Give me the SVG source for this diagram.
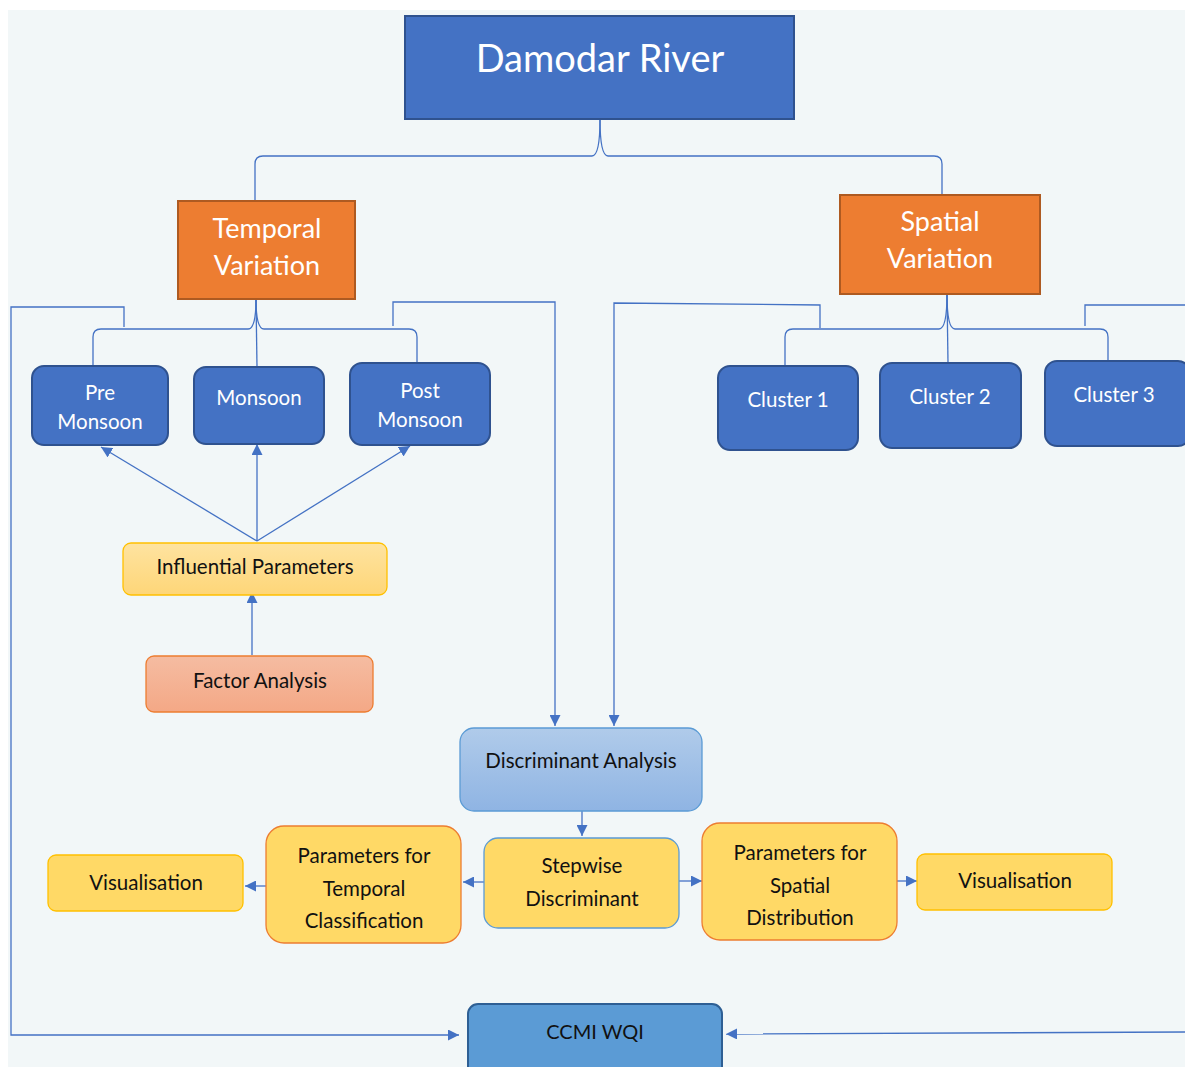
<svg xmlns="http://www.w3.org/2000/svg" width="1185" height="1067" viewBox="0 0 1185 1067">
<defs>
<style>
.t{font-family:Lato,"Open Sans","Liberation Sans",sans-serif;text-anchor:middle}
.w{fill:#ffffff}
.k{fill:#111111}
.ln{fill:none;stroke:#4472c4;stroke-width:1.3}
.blue{fill:#4472c4;stroke:#2f528f;stroke-width:2}
.org{fill:#ed7d31;stroke:#ae5a21;stroke-width:2}
.yel{fill:#ffd966;stroke:#ffc000;stroke-width:1.3}
</style>
<marker id="ar" viewBox="0 0 10 10" refX="10" refY="5" markerWidth="11" markerHeight="11" markerUnits="userSpaceOnUse" orient="auto">
<path d="M0,0 L10,5 L0,10 z" fill="#4472c4"/>
</marker>
<linearGradient id="gIP" x1="0" y1="0" x2="0" y2="1"><stop offset="0" stop-color="#fee3a0"/><stop offset="1" stop-color="#fed678"/></linearGradient>
<linearGradient id="gFA" x1="0" y1="0" x2="0" y2="1"><stop offset="0" stop-color="#f5bca2"/><stop offset="1" stop-color="#f4a886"/></linearGradient>
<linearGradient id="gDA" x1="0" y1="0" x2="0" y2="1"><stop offset="0" stop-color="#b0cbea"/><stop offset="1" stop-color="#8fb4e3"/></linearGradient>
</defs>
<rect x="0" y="0" width="1185" height="1067" fill="#ffffff"/>
<rect x="8" y="10" width="1177" height="1057" fill="#f2f7f8"/>

<g id="connectors">
<path class="ln" d="M600,119 Q600,156 592,156 L263,156 Q255,156 255,164 L255,201"/>
<path class="ln" d="M600,119 Q600,156 608,156 L934,156 Q942,156 942,164 L942,195"/>
<path class="ln" d="M256,299 Q256,329 248,329 L101,329 Q93,329 93,337 L93,366"/>
<path class="ln" d="M256,299 L257,367"/>
<path class="ln" d="M256,299 Q256,329 264,329 L409,329 Q417,329 417,337 L417,363"/>
<path class="ln" d="M947,294 Q947,329 939,329 L793,329 Q785,329 785,337 L785,366"/>
<path class="ln" d="M947,294 L948,363"/>
<path class="ln" d="M947,294 Q947,329 955,329 L1100,329 Q1108,329 1108,337 L1108,361"/>
<path class="ln" d="M124,327 L124,307 L11,307 L11,1035 L459,1035" marker-end="url(#ar)"/>
<path class="ln" d="M393,326 L393,302 L555,302 L555,726" marker-end="url(#ar)"/>
<path class="ln" d="M820,328 L820,305 L614,303 L614,726" marker-end="url(#ar)"/>
<path class="ln" d="M1085,326 L1085,305 L1185,305"/>
<path class="ln" d="M1185,1032 L726,1034" marker-end="url(#ar)"/>
<path class="ln" d="M257,541 L101,447" marker-end="url(#ar)"/>
<path class="ln" d="M257,541 L257,444" marker-end="url(#ar)"/>
<path class="ln" d="M257,541 L410,446" marker-end="url(#ar)"/>
<path class="ln" d="M252,655 L252,592" marker-end="url(#ar)"/>
<path class="ln" d="M582,811 L582,836" marker-end="url(#ar)"/>
<path class="ln" d="M484,882 L463,882" marker-end="url(#ar)"/>
<path class="ln" d="M266,886 L245,886" marker-end="url(#ar)"/>
<path class="ln" d="M679,881 L702,881" marker-end="url(#ar)"/>
<path class="ln" d="M897,881 L917,881" marker-end="url(#ar)"/>
</g>

<g id="damodar">
<rect class="blue" x="405" y="16" width="389" height="103"/>
<text class="t w" x="600" y="72" font-size="38">Damodar River</text>
</g>
<g id="temporal">
<rect class="org" x="178" y="201" width="177" height="98"/>
<text class="t w" x="267" y="238" font-size="27">Temporal</text>
<text class="t w" x="267" y="275" font-size="27">Variation</text>
</g>
<g id="spatial">
<rect class="org" x="840" y="195" width="200" height="99"/>
<text class="t w" x="940" y="231" font-size="27">Spatial</text>
<text class="t w" x="940" y="268" font-size="27">Variation</text>
</g>
<g id="premonsoon">
<rect class="blue" x="32" y="366" width="136" height="79" rx="12"/>
<text class="t w" x="100" y="400" font-size="20.5">Pre</text>
<text class="t w" x="100" y="429" font-size="20.5">Monsoon</text>
</g>
<g id="monsoon">
<rect class="blue" x="194" y="367" width="130" height="77" rx="12"/>
<text class="t w" x="259" y="405" font-size="20.5">Monsoon</text>
</g>
<g id="postmonsoon">
<rect class="blue" x="350" y="363" width="140" height="82" rx="12"/>
<text class="t w" x="420" y="398" font-size="20.5">Post</text>
<text class="t w" x="420" y="427" font-size="20.5">Monsoon</text>
</g>
<g id="cluster1">
<rect class="blue" x="718" y="366" width="140" height="84" rx="12"/>
<text class="t w" x="788" y="407" font-size="20.5">Cluster 1</text>
</g>
<g id="cluster2">
<rect class="blue" x="880" y="363" width="141" height="85" rx="12"/>
<text class="t w" x="950" y="404" font-size="20.5">Cluster 2</text>
</g>
<g id="cluster3">
<rect class="blue" x="1045" y="361" width="145" height="85" rx="12"/>
<text class="t w" x="1114" y="402" font-size="20.5">Cluster 3</text>
</g>
<g id="influential">
<rect x="123" y="543" width="264" height="52" rx="8" fill="url(#gIP)" stroke="#ffc000" stroke-width="1.3"/>
<text class="t k" x="255" y="574" font-size="20.5">Influential Parameters</text>
</g>
<g id="factor">
<rect x="146" y="656" width="227" height="56" rx="8" fill="url(#gFA)" stroke="#ed7d31" stroke-width="1.3"/>
<text class="t k" x="260" y="688" font-size="20.5">Factor Analysis</text>
</g>
<g id="discriminant">
<rect x="460" y="728" width="242" height="83" rx="14" fill="url(#gDA)" stroke="#5b9bd5" stroke-width="1.3"/>
<text class="t k" x="581" y="768" font-size="20.5">Discriminant Analysis</text>
</g>
<g id="stepwise">
<rect x="484" y="838" width="195" height="90" rx="14" fill="#ffd966" stroke="#5b9bd5" stroke-width="1.3"/>
<text class="t k" x="582" y="873" font-size="20.5">Stepwise</text>
<text class="t k" x="582" y="906" font-size="20.5">Discriminant</text>
</g>
<g id="ptemporal">
<rect x="266" y="826" width="195" height="117" rx="18" fill="#ffd966" stroke="#ed7d31" stroke-width="1.3"/>
<text class="t k" x="364" y="863" font-size="20.5">Parameters for</text>
<text class="t k" x="364" y="896" font-size="20.5">Temporal</text>
<text class="t k" x="364" y="928" font-size="20.5">Classification</text>
</g>
<g id="vis1">
<rect class="yel" x="48" y="855" width="195" height="56" rx="8"/>
<text class="t k" x="146" y="890" font-size="20.5">Visualisation</text>
</g>
<g id="pspatial">
<rect x="702" y="823" width="195" height="117" rx="18" fill="#ffd966" stroke="#ed7d31" stroke-width="1.3"/>
<text class="t k" x="800" y="860" font-size="20.5">Parameters for</text>
<text class="t k" x="800" y="893" font-size="20.5">Spatial</text>
<text class="t k" x="800" y="925" font-size="20.5">Distribution</text>
</g>
<g id="vis2">
<rect class="yel" x="917" y="854" width="195" height="56" rx="8"/>
<text class="t k" x="1015" y="888" font-size="20.5">Visualisation</text>
</g>
<g id="ccmi">
<rect x="468" y="1004" width="254" height="75" rx="10" fill="#5b9bd5" stroke="#2e5f94" stroke-width="2"/>
<text class="t k" x="595" y="1039" font-size="20">CCMI WQI</text>
</g>
</svg>
